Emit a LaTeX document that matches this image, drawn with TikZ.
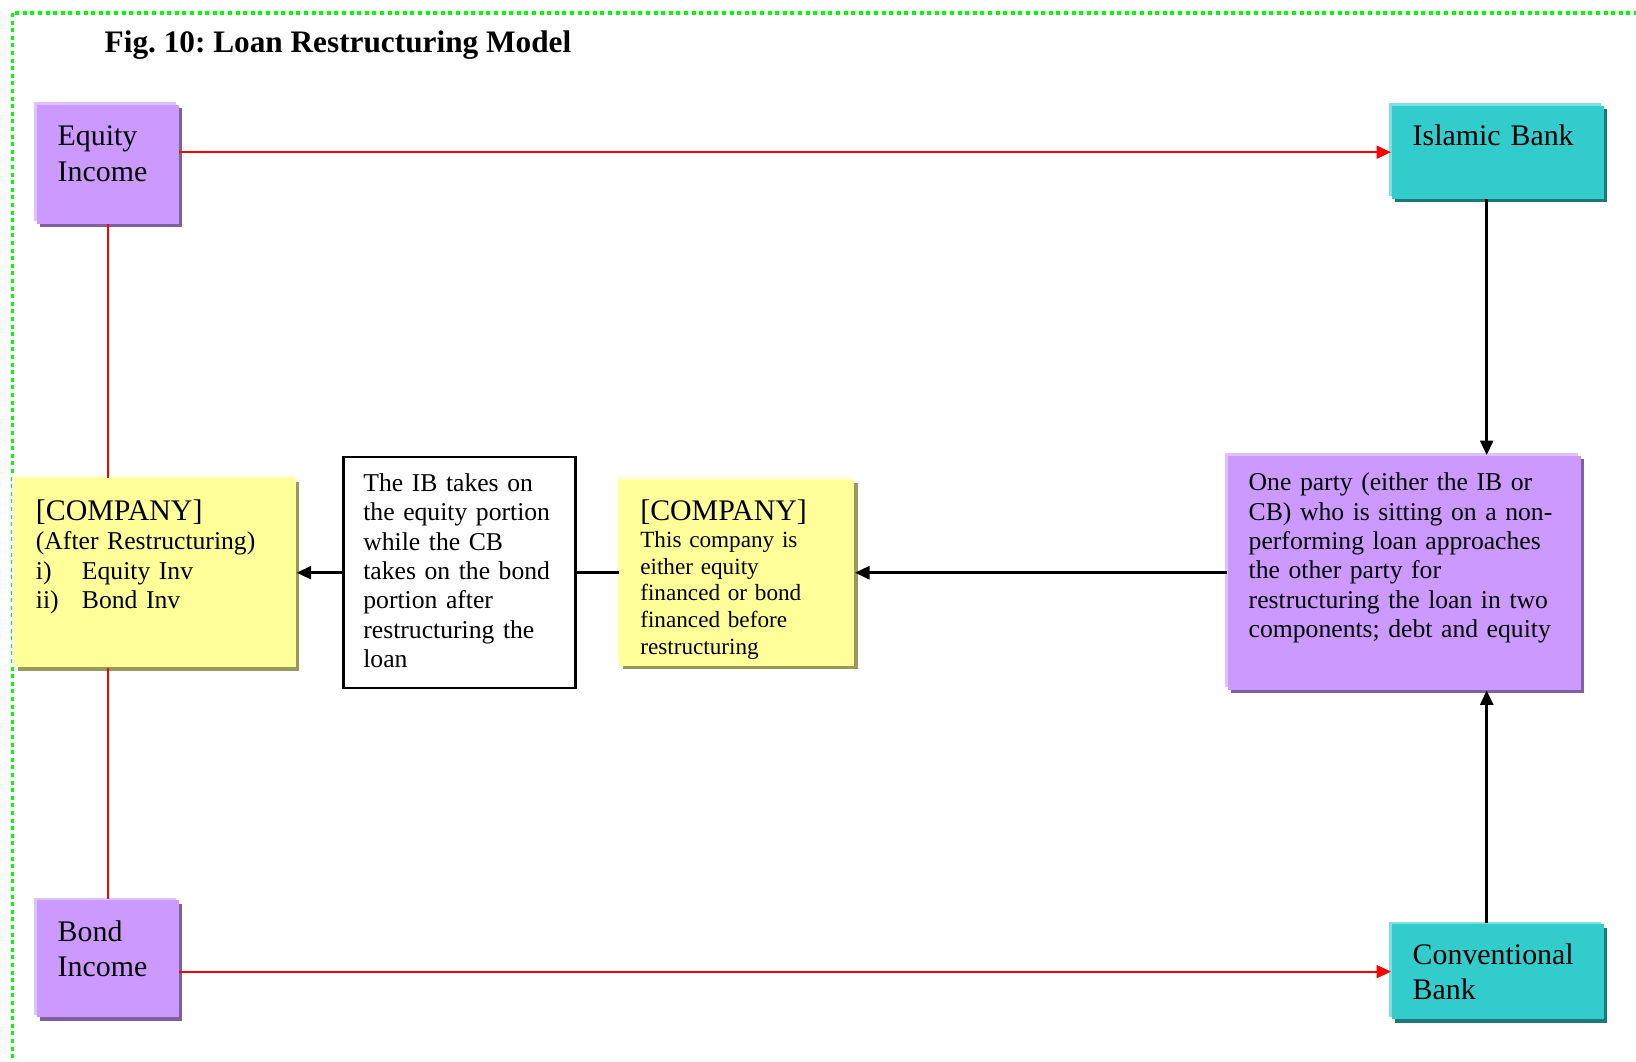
\documentclass[tikz,border=0pt]{standalone}
\usepackage{fontspec}
\setmainfont{Liberation Serif}
\usepackage{xcolor}
\usetikzlibrary{positioning, shadows, arrows.meta}
\definecolor{boxpurple}{RGB}{204,153,255}
\definecolor{purpledark}{RGB}{128,96,160}
\definecolor{purplelight}{RGB}{222,194,255}
\definecolor{boxteal}{RGB}{51,204,204}
\definecolor{tealdark}{RGB}{30,120,120}
\definecolor{teallight}{RGB}{128,224,224}
\definecolor{boxyellow}{RGB}{255,255,153}
\definecolor{yellowdark}{RGB}{153,153,92}
\definecolor{yellowlight}{RGB}{255,255,204}
\definecolor{bordergreen}{RGB}{0,255,0}
\newcommand{\bigtxt}{\fontsize{8.5pt}{10.2pt}\selectfont}
\newcommand{\midtxt}{\fontsize{7.3pt}{8.37pt}\selectfont}
\newcommand{\smalltxt}{\fontsize{6.6pt}{7.6pt}\selectfont}
\frenchspacing
\tikzset{
    inbox/.style={anchor=north west, inner ysep=0pt, inner xsep=2.1mm, align=left},
    purplebox/.style={fill=boxpurple, general shadow={fill=purplelight, shadow xshift=-0.25mm, shadow yshift=0.25mm}, general shadow={fill=purpledark, shadow xshift=0.35mm, shadow yshift=-0.35mm}},
    tealbox/.style={fill=boxteal, general shadow={fill=teallight, shadow xshift=-0.25mm, shadow yshift=0.25mm}, general shadow={fill=tealdark, shadow xshift=0.35mm, shadow yshift=-0.35mm}},
    yellowbox/.style={fill=boxyellow, general shadow={fill=yellowlight, shadow xshift=-0.25mm, shadow yshift=0.25mm}, general shadow={fill=yellowdark, shadow xshift=0.35mm, shadow yshift=-0.35mm}},
    redline/.style={draw=red, line width=0.57pt},
    blackline/.style={draw=black, line width=0.75pt}
}

\begin{document}
\begin{tikzpicture}[>={Triangle[length=1.45mm, width=1.3mm]}]
    \useasboundingbox (0,0) rectangle (16.36,-10.62);
    % Frame
    \draw[bordergreen, line width=0.38mm, dash pattern=on 0.4mm off 0.36mm] (0.125,-0.13) rectangle (16.8,-11);
    \node[anchor=base west, inner sep=0pt, font=\bfseries\fontsize{8.9pt}{10pt}\selectfont] (title) at (1.04,-0.527) {Fig. 10: Loan Restructuring Model};

    % Income boxes
    \node[purplebox, inbox, font=\bigtxt, text width=10mm, text height=4.1mm, text depth=7.8mm] (eq) at (0.36,-1.04) {Equity\\Income};
    \node[purplebox, inbox, font=\bigtxt, text width=10mm, text height=4.1mm, text depth=7.6mm, below=6.75cm of eq] (bond) {Bond\\Income};

    % Banks
    \node[tealbox, inbox, font=\bigtxt, text width=17mm, text height=4mm, text depth=5.3mm] (ib) at (13.91,-1.05) {Islamic Bank};
    \node[tealbox, inbox, font=\bigtxt, text width=17mm, text height=4mm, text depth=5.5mm, below=7.24cm of ib] (cb) {Conventional\\Bank};

    % Middle row
    \node[purplebox, inbox, font=\midtxt, text width=31.1mm, text height=3.5mm, text depth=19.9mm] (req) at (12.27,-4.55) {One party (either the IB or\\CB) who is sitting on a non-\\performing loan approaches\\the other party for\\restructuring the loan in two\\components; debt and equity};
    \node[yellowbox, inbox, font=\smalltxt, text width=19.3mm, text height=4.1mm, text depth=14.5mm, left=3.72cm of req] (beforeco) {{\bigtxt [COMPANY]}\\This company is\\either equity\\financed or bond\\financed before\\restructuring};
    \node[draw, fill=white, line width=0.7pt, inbox, inner xsep=2mm, font=\midtxt, text width=19.2mm, text height=3.4mm, text depth=19.7mm, left=0.42cm of beforeco] (note) {The IB takes on\\the equity portion\\while the CB\\takes on the bond\\portion after\\restructuring the\\loan};
    \node[yellowbox, inbox, font=\midtxt, text width=23.9mm, text height=4.2mm, text depth=14.7mm, left=0.455cm of note] (afterco) {{\bigtxt [COMPANY]}\\(After Restructuring)\\\makebox[4.6mm][l]{i)}Equity Inv\\\makebox[4.6mm][l]{ii)}Bond Inv};

    % Arrows
    \draw[redline, ->] (eq.east |- ib.west) -- (ib.west);
    \draw[redline, ->] (bond.east |- cb.west) -- (cb.west);
    \draw[redline] (eq.south) -- (eq.south |- afterco.north);
    \draw[redline] (bond.north |- afterco.south) -- (bond.north);

    \draw[blackline, ->] ([xshift=-1.1mm]ib.south) -- ([xshift=-1.1mm]ib.south |- req.north);
    \draw[blackline, ->] ([xshift=-1.1mm]cb.north) -- ([xshift=-1.1mm]cb.north |- req.south);
    \draw[blackline, ->] (req.west) -- (req.west -| beforeco.east);
    \draw[blackline] (beforeco.west) -- (beforeco.west -| note.east);
    \draw[blackline, ->] (note.west) -- (note.west -| afterco.east);
\end{tikzpicture}
\end{document}
